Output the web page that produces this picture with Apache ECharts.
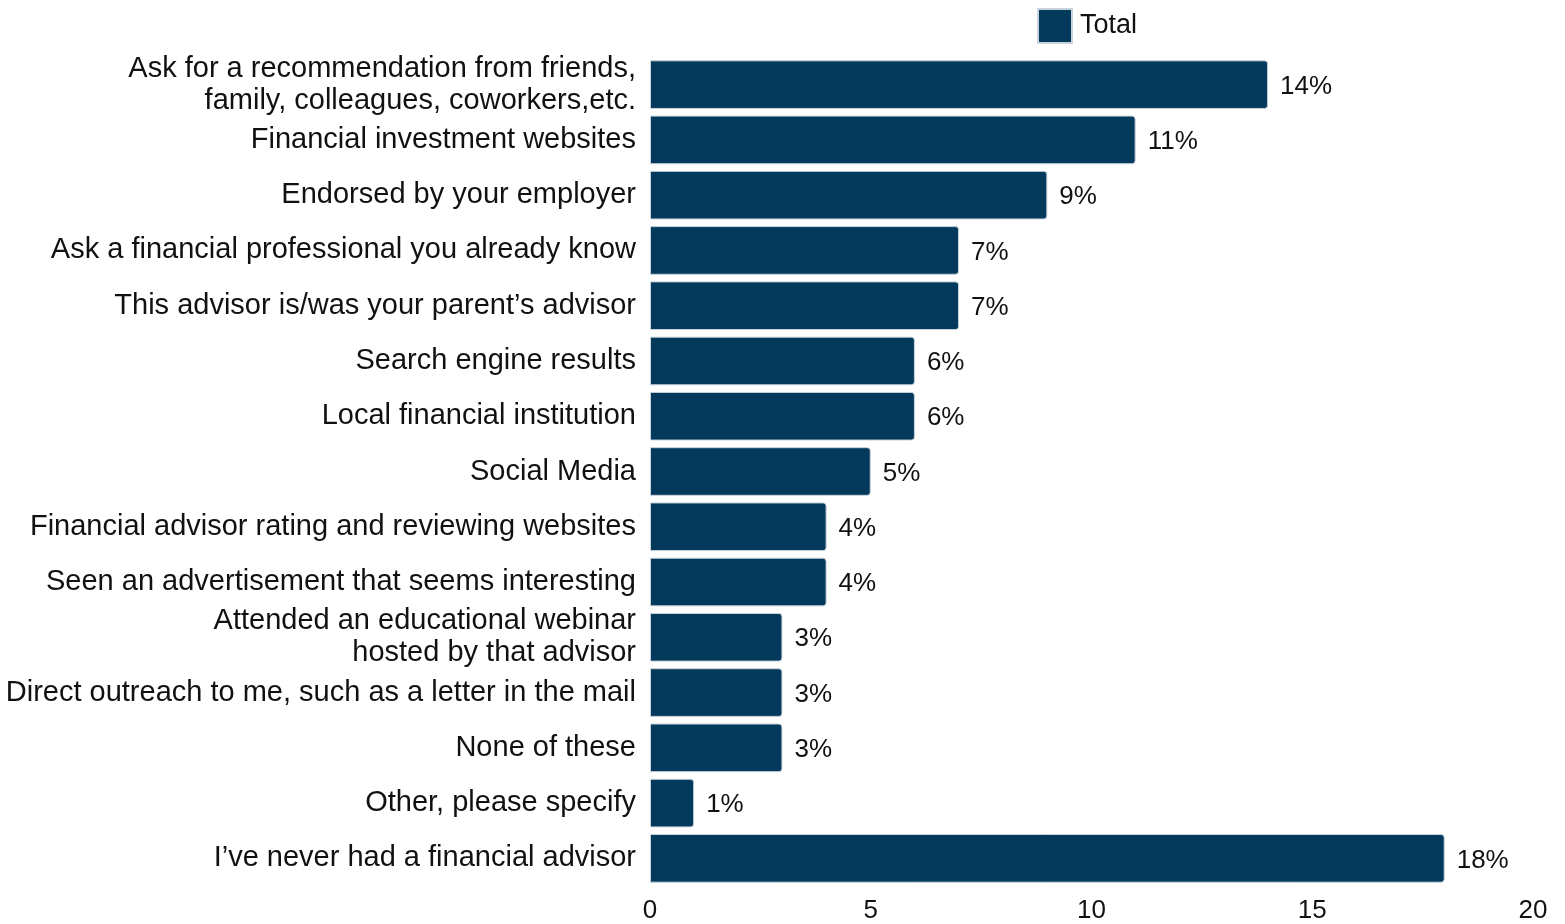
<!DOCTYPE html>
<html>
<head>
<meta charset="utf-8">
<script src="https://cdn.jsdelivr.net/npm/echarts@6/dist/echarts.min.js"></script>
<style>
  html, body { margin: 0; padding: 0; background: #ffffff; }
  #chart { width: 1565px; height: 924px; }
</style>
</head>
<body>
<div id="chart"></div>
<script>
// How people found their financial advisor (share of respondents, %)
const categories = [
  'Ask for a recommendation from friends,\nfamily, colleagues, coworkers,etc.',
  'Financial investment websites',
  'Endorsed by your employer',
  'Ask a financial professional you already know',
  'This advisor is/was your parent\u2019s advisor',
  'Search engine results',
  'Local financial institution',
  'Social Media',
  'Financial advisor rating and reviewing websites',
  'Seen an advertisement that seems interesting',
  'Attended an educational webinar\nhosted by that advisor',
  'Direct outreach to me, such as a letter in the mail',
  'None of these',
  'Other, please specify',
  'I\u2019ve never had a financial advisor'
];
const totalValues = [14, 11, 9, 7, 7, 6, 6, 5, 4, 4, 3, 3, 3, 1, 18];
const axisTicks = [0, 5, 10, 15, 20];

const FONT = '"Liberation Sans", Arial, sans-serif';
const BAR = '#03395b';

const chart = echarts.init(document.getElementById('chart'), null, { renderer: 'canvas' });
chart.setOption({
  backgroundColor: '#ffffff',
  animation: false,
  legend: {
    data: ['Total'],
    left: 1032,
    top: 3,
    itemWidth: 34,
    itemHeight: 34,
    itemGap: 10,
    icon: 'rect',
    textStyle: { fontFamily: FONT, fontSize: 27, color: '#111111', padding: [0, 0, 0, 3] }
  },
  grid: { left: 650, right: 32, top: 57, height: 831 },
  xAxis: {
    type: 'value',
    min: axisTicks[0],
    max: axisTicks[axisTicks.length - 1],
    interval: 5,
    axisLine: { show: false },
    axisTick: { show: false },
    splitLine: { show: false },
    axisLabel: {
      fontFamily: FONT, fontSize: 26, color: '#111111', margin: 12,
      formatter: v => axisTicks.includes(v) ? String(v) : ''
    }
  },
  yAxis: {
    type: 'category',
    inverse: true,
    data: categories,
    axisLine: { show: false },
    axisTick: { show: false },
    axisLabel: {
      fontFamily: FONT, fontSize: 29, color: '#111111', margin: 14,
      lineHeight: 32, align: 'right', padding: [3, 0, 0, 0]
    }
  },
  series: [{
    name: 'Total',
    type: 'bar',
    data: totalValues,
    barCategoryGap: '12%',
    itemStyle: { color: BAR, borderRadius: [0, 3, 3, 0], borderColor: '#c9d3dc', borderWidth: 1 },
    label: {
      show: true,
      position: 'right',
      distance: 12,
      offset: [0, 2],
      formatter: p => p.value + '%',
      fontFamily: FONT, fontSize: 26, color: '#111111'
    }
  }]
});
</script>
</body>
</html>
